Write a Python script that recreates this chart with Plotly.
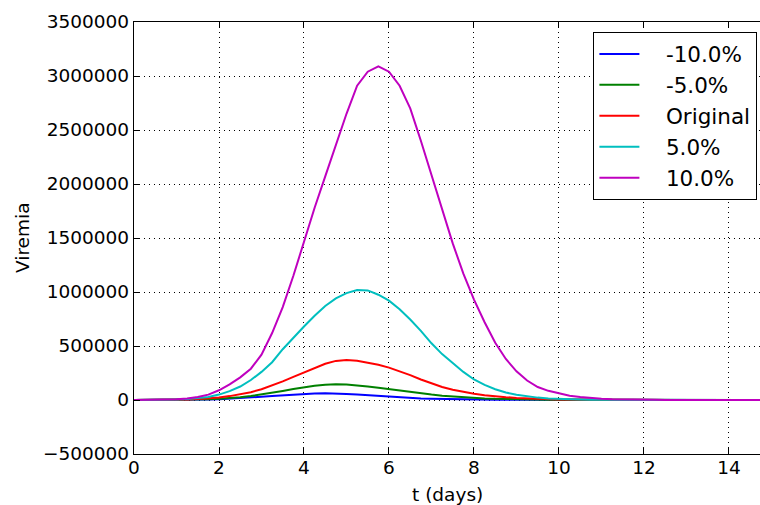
import plotly.graph_objects as go

t_days = [0.0, 0.25, 0.5, 0.75, 1.0, 1.25, 1.5, 1.75, 2.0, 2.25, 2.5, 2.75,
          3.0, 3.25, 3.5, 3.75, 4.0, 4.25, 4.5, 4.75, 5.0, 5.25, 5.5, 5.75,
          6.0, 6.25, 6.5, 6.75, 7.0, 7.25, 7.5, 7.75, 8.0, 8.25, 8.5, 8.75,
          9.0, 9.25, 9.5, 9.75, 10.0, 10.25, 10.5, 10.75, 11.0, 11.25, 11.5, 11.75,
          12.0, 12.25, 12.5, 12.75, 13.0, 13.25, 13.5, 13.75, 14.0, 14.25, 14.5, 14.75, 15.0]

minus10 = [0, 100, 300, 600, 1200, 2000, 3500, 5500, 8000, 12000, 17000, 23000,
           30000, 37000, 44000, 51000, 56000, 60000, 61500, 60000, 56000, 50000, 43000, 36000,
           29000, 23500, 18500, 14500, 11000, 8500, 6500, 5000, 3800, 2800, 2100, 1500,
           1100, 800, 600, 430, 310, 220, 160, 110, 80, 55, 40, 28,
           20, 14, 10, 7, 5, 3, 2, 1, 1, 1, 0, 0, 0]

minus5 = [0, 100, 300, 700, 1400, 2500, 4000, 6500, 11000, 17000, 26000, 37000,
          51000, 67000, 84000, 101000, 117000, 132000, 142000, 146000, 143000, 136000, 126000, 114000,
          100000, 87000, 74000, 62000, 50000, 40000, 32000, 25000, 19000, 15000, 11000, 8000,
          6000, 4500, 3200, 2300, 1600, 1100, 800, 550, 380, 260, 180, 120,
          80, 55, 38, 26, 18, 12, 8, 5, 4, 3, 2, 1, 1]

original = [0, 200, 700, 1500, 3000, 5500, 9000, 15000, 24000, 36000, 52000, 72000,
            100000, 135000, 172000, 214000, 257000, 300000, 336000, 362000, 370000, 364000, 348000, 327000,
            300000, 268000, 230000, 190000, 152000, 120000, 95000, 75000, 58000, 45000, 34000, 26000,
            19000, 14000, 10000, 7000, 5000, 3500, 2500, 1700, 1200, 800, 550, 380,
            260, 180, 120, 80, 55, 38, 26, 18, 12, 8, 5, 3, 2]

plus5 = [0, 300, 1000, 2500, 5000, 9000, 16000, 28000, 50000, 82000, 125000, 185000,
         260000, 350000, 470000, 580000, 680000, 780000, 870000, 940000, 990000, 1018000, 1015000, 975000,
         920000, 840000, 745000, 640000, 525000, 425000, 340000, 260000, 190000, 140000, 100000, 70000,
         48000, 33000, 22000, 15000, 10000, 7000, 4500, 3000, 2000, 1300, 850, 550,
         360, 240, 160, 100, 65, 42, 28, 18, 12, 8, 5, 3, 2]

plus10 = [0, 500, 1500, 4000, 8000, 15000, 27000, 50000, 90000, 145000, 210000, 290000,
          420000, 620000, 860000, 1150000, 1470000, 1780000, 2070000, 2370000, 2650000, 2910000, 3040000, 3090000,
          3040000, 2910000, 2700000, 2400000, 2080000, 1780000, 1450000, 1170000, 930000, 720000, 530000, 380000,
          265000, 180000, 120000, 85000, 60000, 40000, 27000, 18000, 12000, 8000, 5000, 3000,
          2000, 1300, 800, 500, 300, 200, 130, 80, 50, 30, 20, 12, 8]

series_names = ["-10.0%", "-5.0%", "Original", "5.0%", "10.0%"]
series_values = [minus10, minus5, original, plus5, plus10]
series_colors = ["#0000ff", "#008000", "#ff0000", "#00bfbf", "#bf00bf"]

x_ticks = [0, 2, 4, 6, 8, 10, 12, 14]
x_ticklabels = ["0", "2", "4", "6", "8", "10", "12", "14"]
y_ticks = [-500000, 0, 500000, 1000000, 1500000, 2000000, 2500000, 3000000, 3500000]
y_ticklabels = ["\u2212500000", "0", "500000", "1000000", "1500000",
                "2000000", "2500000", "3000000", "3500000"]

FONT = "DejaVu Sans"
FS = 18.5

# plot area in pixels
L, R, T, B = 134, 760, 22, 454
W, H = 760, 505

fig = go.Figure()
for name, vals, col in zip(series_names, series_values, series_colors):
    fig.add_trace(go.Scatter(x=t_days, y=vals, mode="lines",
                             name="\u2002\u2002" + name,
                             legendgroup=name,
                             line=dict(color=col, width=2)))

axis_common = dict(
    showline=True, linecolor="black", linewidth=1.4,
    ticks="inside", ticklen=6, tickwidth=1.2, tickcolor="black",
    showgrid=True, gridcolor="black", gridwidth=1, griddash="1px,4px",
    zeroline=False, automargin=False,
    tickfont=dict(family=FONT, size=FS, color="black"),
)

fig.update_xaxes(**axis_common, range=[0, 14.73], mirror="ticks",
                 tickvals=x_ticks, ticktext=x_ticklabels, ticklabelstandoff=-3)
fig.update_yaxes(**axis_common, range=[-500000, 3500000], mirror=False,
                 tickvals=y_ticks, ticktext=y_ticklabels)

fig.add_annotation(text="t (days)", xref="paper", yref="paper",
                   x=(447 - L) / (R - L), y=-(494 - B) / (B - T),
                   xanchor="center", yanchor="middle", showarrow=False,
                   font=dict(family=FONT, size=FS, color="black"))
fig.add_annotation(text="Viremia", xref="paper", yref="paper",
                   x=(22 - L) / (R - L), y=0.5, textangle=-90,
                   xanchor="center", yanchor="middle", showarrow=False,
                   font=dict(family=FONT, size=FS, color="black"))

fig.update_layout(
    width=W, height=H,
    margin=dict(l=L, r=W - R, t=T, b=H - B, autoexpand=False),
    paper_bgcolor="white", plot_bgcolor="white",
    font=dict(family=FONT, size=FS, color="black"),
    legend=dict(x=(593 - L) / (R - L), y=1 - (32 - T) / (B - T),
                xanchor="left", yanchor="top",
                bgcolor="white", bordercolor="black", borderwidth=1.4,
                font=dict(family=FONT, size=21.5, color="black"),
                itemwidth=40, tracegroupgap=0),
    showlegend=True,
)

fig.write_html("out.html", config={"displayModeBar": False},
               post_script="document.body.style.margin='0';")
